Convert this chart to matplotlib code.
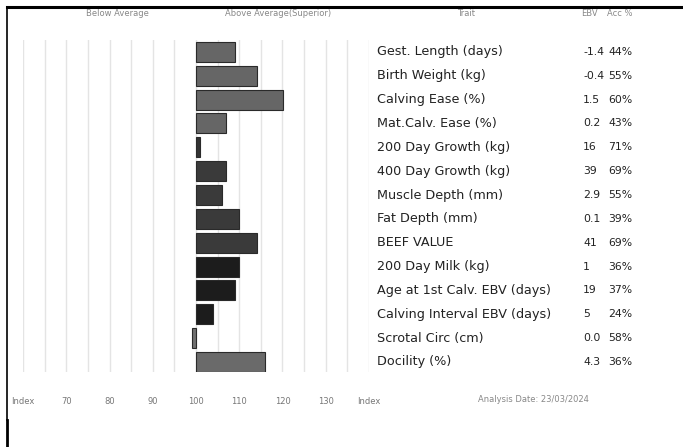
import matplotlib.pyplot as plt
from matplotlib.lines import Line2D
from matplotlib.transforms import blended_transform_factory

traits = ["Gest. Length (days)", "Birth Weight (kg)", "Calving Ease (%)",
          "Mat.Calv. Ease (%)", "200 Day Growth (kg)", "400 Day Growth (kg)",
          "Muscle Depth (mm)", "Fat Depth (mm)", "BEEF VALUE",
          "200 Day Milk (kg)", "Age at 1st Calv. EBV (days)",
          "Calving Interval EBV (days)", "Scrotal Circ (cm)", "Docility (%)"]
ebv = ["-1.4", "-0.4", "1.5", "0.2", "16", "39", "2.9", "0.1", "41",
       "1", "19", "5", "0.0", "4.3"]
acc = ["44%", "55%", "60%", "43%", "71%", "69%", "55%", "39%", "69%",
       "36%", "37%", "24%", "58%", "36%"]
index_vals = [109, 114, 120, 107, 101, 107, 106, 110, 114, 110, 109, 104, 99, 116]
bar_colors = ["#666666", "#666666", "#666666", "#666666", "#333333",
              "#3a3a3a", "#3a3a3a", "#3a3a3a", "#3a3a3a",
              "#1c1c1c", "#1c1c1c", "#1c1c1c", "#707070", "#6a6a6a"]
tick_vals = [60, 70, 80, 90, 100, 110, 120, 130, 140]
tick_labels = ["Index", "70", "80", "90", "100", "110", "120", "130", "Index"]

W, H = 683, 447
fig = plt.figure(figsize=(W / 100, H / 100), dpi=100)
plt.rcParams["font.family"] = ["DejaVu Sans"]

ax = fig.add_axes([23 / W, 1 - 372 / H, (369 - 23) / W, (372 - 40) / H])
rows = list(range(len(traits)))
widths = [v - 100 for v in index_vals]
ax.barh(rows, widths, left=100, height=0.84, color=bar_colors,
        edgecolor="#2a2a2a", linewidth=0.8, zorder=3)

for g in range(60, 145, 5):
    ax.axvline(g, color="#e4e4e4", lw=1, zorder=1)

ax.set_xlim(60, 140)
ax.set_ylim(len(traits) - 0.58, -0.5)
ax.set_yticks([])
ax.set_xticks(tick_vals)
ax.set_xticklabels(tick_labels, fontsize=6, color="#777777")
ax.tick_params(axis="x", length=0, pad=18)
for s in ax.spines.values():
    s.set_visible(False)

# table on the right
tr = blended_transform_factory(fig.transFigure, ax.transData)
for i in rows:
    ax.text(377 / W, i, traits[i], transform=tr, fontsize=9.2, color="#222222",
            va="center", ha="left")
    ax.text(583 / W, i, ebv[i], transform=tr, fontsize=7.8, color="#222222",
            va="center", ha="left")
    ax.text(608 / W, i, acc[i], transform=tr, fontsize=7.8, color="#222222",
            va="center", ha="left")

hy = 1 - 14 / H
small = dict(fontsize=6, color="#888888", va="center")
fig.text(117 / W, hy, "Below Average", ha="center", **small)
fig.text(278 / W, hy, "Above Average(Superior)", ha="center", **small)
fig.text(466 / W, hy, "Trait", ha="center", **small)
fig.text(589 / W, hy, "EBV", ha="center", **small)
fig.text(620 / W, hy, "Acc %", ha="center", **small)
fig.text(478 / W, 1 - 400 / H, "Analysis Date: 23/03/2024", ha="left", **small)

# frame lines
fig.add_artist(Line2D([7 / W, 1], [1 - 7 / H, 1 - 7 / H], color="black", lw=2.2))
fig.add_artist(Line2D([7 / W, 7 / W], [1 - 7 / H, 1 - 420 / H], color="black", lw=1.2))
fig.add_artist(Line2D([7 / W, 7 / W], [1 - 420 / H, 0], color="black", lw=2))

fig.savefig("out.png", dpi=100)
